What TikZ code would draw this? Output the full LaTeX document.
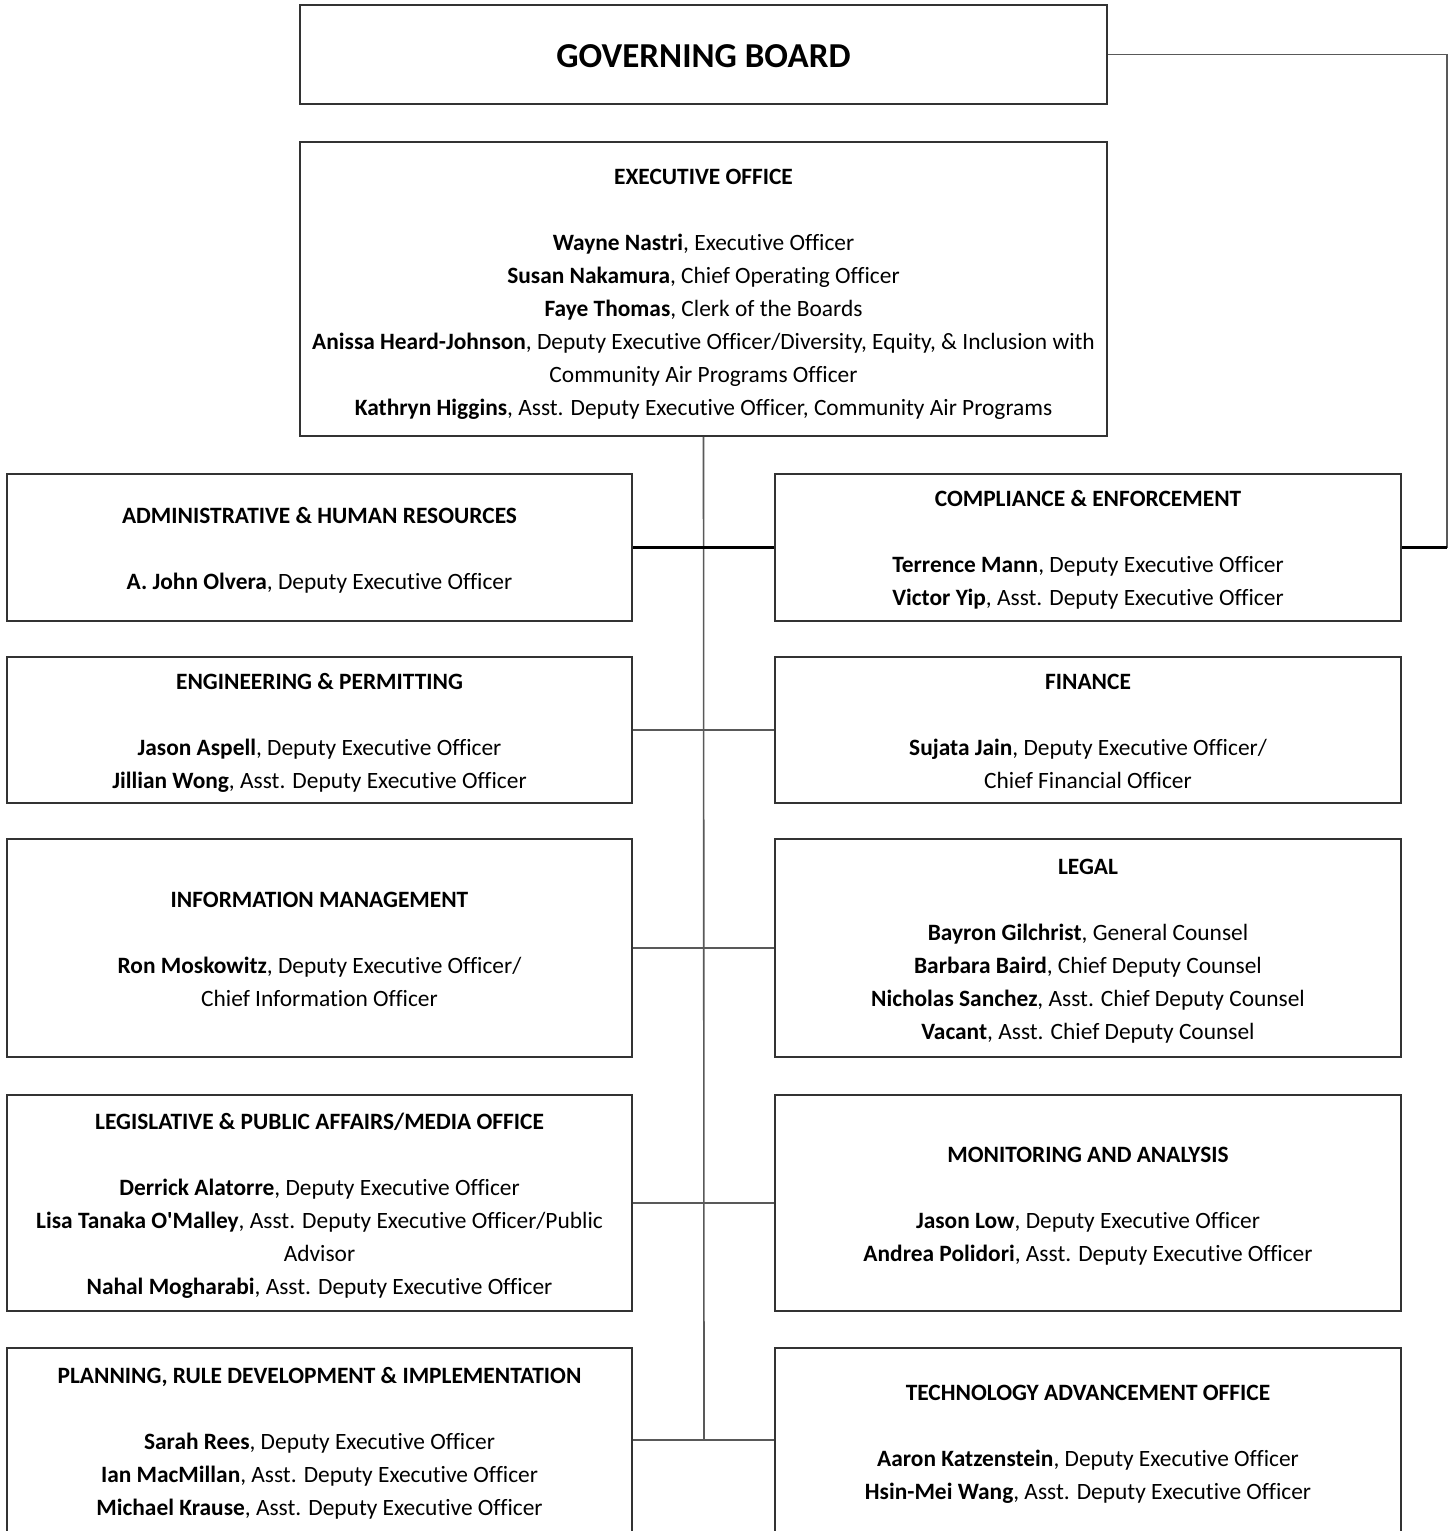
\documentclass[tikz,border=0pt]{standalone}
\usepackage{fontspec}
\setmainfont{Carlito}[Ligatures={TeX,NoCommon}]
\newcommand\mytopstrut{\rule{0pt}{23pt}}
\newcommand\mybotstrut{\rule[-6pt]{0pt}{6pt}}
\begin{document}
\begin{tikzpicture}[x=1pt,y=-1pt,
  unitbox/.style={draw=black!80, line width=1.6pt, fill=white, align=center, inner sep=0pt,
    font=\fontsize{23.4}{33}\selectfont},
  conn/.style={draw=black!65, line width=1.6pt},
  thickconn/.style={draw=black, line width=2.6pt}]
\useasboundingbox (0,0) rectangle (1452,1531);
\clip (0,0) rectangle (1452,1531);

\node[unitbox, minimum width=807, minimum height=99, font=\fontsize{35}{40}\selectfont\bfseries] (gb) at (703.5,54.5) {\rule{0pt}{25.6pt}GOVERNING BOARD};

\node[unitbox, minimum width=807, minimum height=294] (eo) at (703.5,289) {\rule{0pt}{28pt}\textbf{EXECUTIVE OFFICE}\\[33pt]
\textbf{Wayne Nastri}, Executive Officer\\
\textbf{Susan Nakamura}, Chief Operating Officer\\
\textbf{Faye Thomas}, Clerk of the Boards\\
\textbf{Anissa Heard-Johnson}, Deputy Executive Officer/Diversity, Equity, \& Inclusion with\\
Community Air Programs Officer\\
\textbf{Kathryn Higgins}, Asst. Deputy Executive Officer, Community Air Programs\mybotstrut};

\node[unitbox, minimum width=625, minimum height=147] (admin) at (319.5,547.5) {\mytopstrut\textbf{ADMINISTRATIVE \& HUMAN RESOURCES}\\[33pt]
\textbf{A. John Olvera}, Deputy Executive Officer\mybotstrut};

\node[unitbox, minimum width=626, minimum height=147] (comp) at (1088,547.5) {\mytopstrut\textbf{COMPLIANCE \& ENFORCEMENT}\\[33pt]
\textbf{Terrence Mann}, Deputy Executive Officer\\
\textbf{Victor Yip}, Asst. Deputy Executive Officer\mybotstrut};

\node[unitbox, minimum width=625, minimum height=146] (eng) at (319.5,730) {\mytopstrut\textbf{ENGINEERING \& PERMITTING}\\[33pt]
\textbf{Jason Aspell}, Deputy Executive Officer\\
\textbf{Jillian Wong}, Asst. Deputy Executive Officer\mybotstrut};

\node[unitbox, minimum width=626, minimum height=146] (fin) at (1088,730) {\mytopstrut\textbf{FINANCE}\\[33pt]
\textbf{Sujata Jain}, Deputy Executive Officer/\\
Chief Financial Officer\mybotstrut};

\node[unitbox, minimum width=625, minimum height=218] (info) at (319.5,948) {\mytopstrut\textbf{INFORMATION MANAGEMENT}\\[33pt]
\textbf{Ron Moskowitz}, Deputy Executive Officer/\\
Chief Information Officer\mybotstrut};

\node[unitbox, minimum width=626, minimum height=218] (legal) at (1088,948) {\mytopstrut\textbf{LEGAL}\\[33pt]
\textbf{Bayron Gilchrist}, General Counsel\\
\textbf{Barbara Baird}, Chief Deputy Counsel\\
\textbf{Nicholas Sanchez}, Asst. Chief Deputy Counsel\\
\textbf{Vacant}, Asst. Chief Deputy Counsel\mybotstrut};

\node[unitbox, minimum width=625, minimum height=216] (legis) at (319.5,1203) {\mytopstrut\textbf{LEGISLATIVE \& PUBLIC AFFAIRS/MEDIA OFFICE}\\[33pt]
\textbf{Derrick Alatorre}, Deputy Executive Officer\\
\textbf{Lisa Tanaka O\textquotesingle Malley}, Asst. Deputy Executive Officer/Public\\
Advisor\\
\textbf{Nahal Mogharabi}, Asst. Deputy Executive Officer\mybotstrut};

\node[unitbox, minimum width=626, minimum height=216] (mon) at (1088,1203) {\mytopstrut\textbf{MONITORING AND ANALYSIS}\\[33pt]
\textbf{Jason Low}, Deputy Executive Officer\\
\textbf{Andrea Polidori}, Asst. Deputy Executive Officer\mybotstrut};

\node[unitbox, minimum width=625, minimum height=186] (plan) at (319.5,1441) {\mytopstrut\textbf{PLANNING, RULE DEVELOPMENT \& IMPLEMENTATION}\\[33pt]
\textbf{Sarah Rees}, Deputy Executive Officer\\
\textbf{Ian MacMillan}, Asst. Deputy Executive Officer\\
\textbf{Michael Krause}, Asst. Deputy Executive Officer\mybotstrut};

\node[unitbox, minimum width=626, minimum height=186] (tech) at (1088,1441) {\mytopstrut\textbf{TECHNOLOGY ADVANCEMENT OFFICE}\\[33pt]
\textbf{Aaron Katzenstein}, Deputy Executive Officer\\
\textbf{Hsin-Mei Wang}, Asst. Deputy Executive Officer\mybotstrut};

\coordinate (spineend) at (704,1440);
\coordinate (corner) at (1447,547.5);

\draw[conn] (eo.south) -- (spineend);
\draw[thickconn] (admin.east) -- (comp.west);
\draw[conn] (eng.east) -- (fin.west);
\draw[conn] (info.east) -- (legal.west);
\draw[conn] (legis.east) -- (mon.west);
\draw[conn] (plan.east |- spineend) -- (tech.west |- spineend);
\draw[conn] (gb.east) -| (corner);
\draw[thickconn] (corner) -- (comp.east);
\end{tikzpicture}
\end{document}
